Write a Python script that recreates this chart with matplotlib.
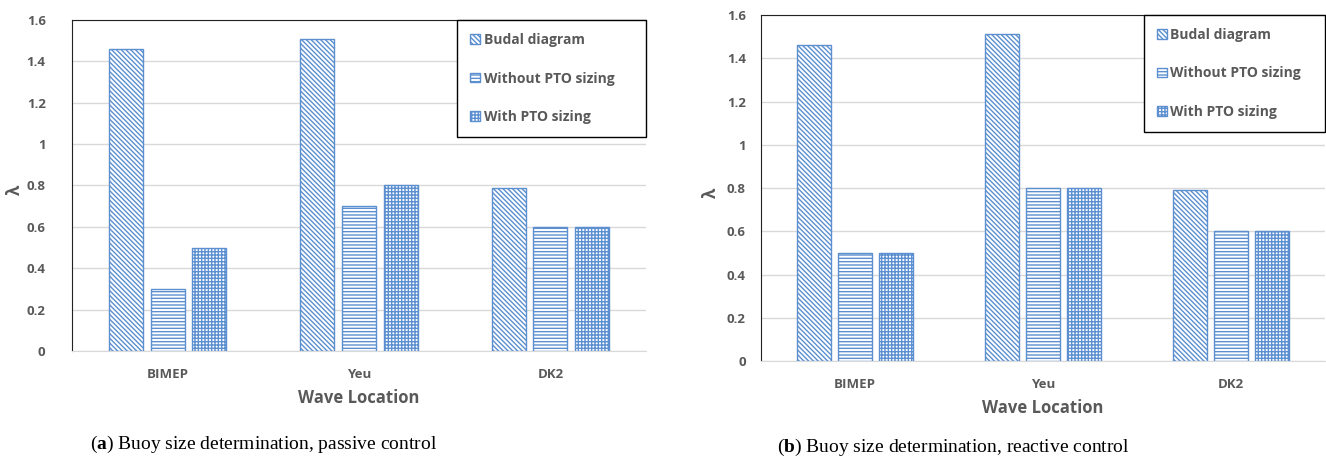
import numpy as np
import matplotlib
matplotlib.use("Agg")
import matplotlib.pyplot as plt

plt.rcParams['font.family'] = ['Open Sans', 'DejaVu Sans']
plt.rcParams['hatch.linewidth'] = 1.0
plt.rcParams['mathtext.fontset'] = 'custom'
plt.rcParams['mathtext.rm'] = 'Liberation Serif'
plt.rcParams['mathtext.bf'] = 'Liberation Serif:bold'

# data
locations = ['BIMEP', 'Yeu', 'DK2']
series = ['Budal diagram', 'Without PTO sizing', 'With PTO sizing']

passive_budal = [1.46, 1.51, 0.79]
passive_without = [0.30, 0.70, 0.60]
passive_with = [0.50, 0.80, 0.60]

reactive_budal = [1.46, 1.51, 0.79]
reactive_without = [0.50, 0.80, 0.60]
reactive_with = [0.50, 0.80, 0.60]

yticks = [0, 0.2, 0.4, 0.6, 0.8, 1, 1.2, 1.4, 1.6]
ytick_labels = ['0', '0.2', '0.4', '0.6', '0.8', '1', '1.2', '1.4', '1.6']

hatches = ['\\' * 7, '-' * 5, '+' * 5]
blue = '#5b8fcf'
grey_text = '#595959'


def draw_panel(ax, values, ytick_pad, legend_box, xlabel_pad):
    x = np.arange(len(locations))
    width = 0.178
    step = 0.218
    for i, (vals, name) in enumerate(zip(values, series)):
        ax.bar(x + (i - 1) * step, vals, width, label=name,
               facecolor='white', edgecolor=blue, hatch=hatches[i],
               linewidth=1.0, zorder=3)

    ax.set_xlim(-0.5, len(locations) - 0.5)
    ax.set_ylim(0, 1.6)
    ax.set_yticks(yticks)
    ax.set_yticklabels(ytick_labels)
    ax.set_xticks(x)
    ax.set_xticklabels(locations)
    ax.grid(axis='y', color='#d9d9d9', linewidth=1.0, zorder=0)
    ax.tick_params(axis='y', length=0, pad=ytick_pad, labelsize=9.5,
                   labelcolor=grey_text)
    ax.tick_params(axis='x', length=0, pad=12, labelsize=9.5,
                   labelcolor=grey_text)
    for lab in ax.get_xticklabels() + ax.get_yticklabels():
        lab.set_fontweight('bold')

    ax.spines['right'].set_visible(False)
    ax.spines['top'].set_color('#222222')
    ax.spines['left'].set_color('#222222')
    ax.spines['bottom'].set_color('#d9d9d9')

    ax.set_xlabel('Wave Location', fontsize=12, fontweight='bold',
                  color=grey_text, labelpad=xlabel_pad)

    leg = ax.legend(loc='upper left', bbox_to_anchor=legend_box, mode='expand',
                    fancybox=False, edgecolor='black', framealpha=1,
                    handlelength=0.7, handleheight=0.7,
                    handletextpad=0.25, labelspacing=1.75, borderpad=0.95,
                    borderaxespad=0, prop={'weight': 'bold', 'size': 10})
    leg.get_frame().set_linewidth(1.0)
    leg.set_zorder(5)
    for t in leg.get_texts():
        t.set_color(grey_text)
    return leg


fig = plt.figure(figsize=(13.26, 4.61), dpi=100)
W, H = 1326, 461

ax1 = fig.add_axes([72 / W, (H - 351) / H, 574 / W, 331 / H])
ax2 = fig.add_axes([761 / W, (H - 361) / H, 564 / W, 346 / H])

draw_panel(ax1, [passive_budal, passive_without, passive_with], 19,
           (0.671, 0.0, 0.329, 1.0), 6)
draw_panel(ax2, [reactive_budal, reactive_without, reactive_with], 11,
           (0.679, 0.0, 0.321, 1.0), 6)

fig.text(15 / W, 1 - 190 / H, 'λ', rotation=90, fontsize=12, color=grey_text,
         fontweight='bold', ha='center', va='center')
fig.text(711 / W, 1 - 193 / H, 'λ', rotation=90, fontsize=12, color=grey_text,
         fontweight='bold', ha='center', va='center')

fig.text(90 / W, 1 - 444 / H, r'($\mathbf{a}$) Buoy size determination, passive control',
         fontsize=14, family='Liberation Serif', ha='left', va='center')
fig.text(777 / W, 1 - 447 / H, r'($\mathbf{b}$) Buoy size determination, reactive control',
         fontsize=14, family='Liberation Serif', ha='left', va='center')

fig.savefig('out.png', dpi=100)
